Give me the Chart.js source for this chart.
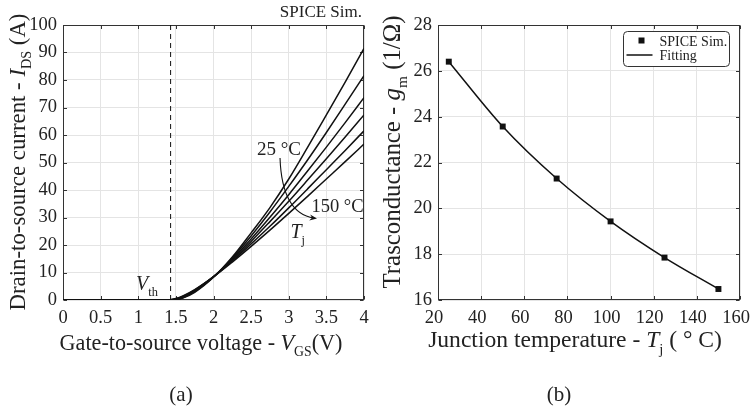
<!DOCTYPE html>
<html>
<head>
<meta charset="utf-8">
<script src="https://cdn.jsdelivr.net/npm/chart.js@4.4.1/dist/chart.umd.min.js"></script>
<style>
  html, body { margin: 0; padding: 0; background: #ffffff; }
  #wrap { position: relative; width: 750px; height: 409px; background: #fff; }
  #wrap canvas { position: absolute; top: 0; }
  #ca { left: 0; }
  #cb { left: 375px; }
</style>
</head>
<body>
<div id="wrap">
  <canvas id="ca" width="375" height="409"></canvas>
  <canvas id="cb" width="375" height="409"></canvas>
</div>
<script>
// ---------------- data: panel (a) ----------------
const vgs      = [0, 0.5, 1, 1.3, 1.4, 1.5, 1.6, 1.75, 2, 2.25, 2.5, 2.75, 3, 3.25, 3.5, 3.75, 4];
const ids25C   = [0, 0, 0, 0, 0, 0.09, 0.76, 2.78, 8.25, 15.6, 24.4, 33.6, 44.0, 55.5, 67.3, 79.2, 91.5];
const ids50C   = [0, 0, 0, 0, 0, 0.15, 0.91, 3.02, 8.37, 15.3, 23.3, 32.0, 41.3, 50.9, 60.9, 71.2, 81.6];
const ids75C   = [0, 0, 0, 0, 0, 0.23, 1.08, 3.23, 8.44, 14.9, 22.2, 30.1, 38.3, 46.9, 55.6, 64.5, 73.6];
const ids100C  = [0, 0, 0, 0, 0, 0.32, 1.25, 3.44, 8.49, 14.6, 21.3, 28.5, 35.9, 43.6, 51.4, 59.3, 67.3];
const ids125C  = [0, 0, 0, 0, 0, 0.42, 1.42, 3.62, 8.47, 14.2, 20.4, 26.8, 33.5, 40.4, 47.4, 54.4, 61.5];
const ids150C  = [0, 0, 0, 0, 0.02, 0.54, 1.59, 3.79, 8.43, 13.8, 19.5, 25.4, 31.5, 37.7, 44.0, 50.3, 56.7];
const curveLabels = ['25 °C', '50 °C', '75 °C', '100 °C', '125 °C', '150 °C'];
const vthValue = 1.43;
const vgsTicks = [0, 0.5, 1, 1.5, 2, 2.5, 3, 3.5, 4];
const idsTicks = [0, 10, 20, 30, 40, 50, 60, 70, 80, 90, 100];

// ---------------- data: panel (b) ----------------
const tjValues  = [25, 50, 75, 100, 125, 150];
const gmSpice   = [26.4, 23.57, 21.3, 19.43, 17.85, 16.48];
const tjTicks   = [20, 40, 60, 80, 100, 120, 140, 160];
const gmTicks   = [16, 18, 20, 22, 24, 26, 28];

// ---------------- helpers ----------------
const FAM = '"Liberation Serif", "Times New Roman", serif';
const INK = '#222222';
const GRID = '#e4e4e4';
const fontStr = (s, it) => (it ? 'italic ' : '') + s + 'px ' + FAM;

function measureRich(ctx, parts, size) {
  let w = 0;
  for (const p of parts) {
    ctx.font = fontStr(p.sub ? size * 0.62 : size, p.it);
    w += ctx.measureText(p.t).width;
  }
  return w;
}
function drawRich(ctx, parts, x, y, opt) {
  let size = opt.size;
  if (opt.fit) size = size * opt.fit / measureRich(ctx, parts, size);
  const w = measureRich(ctx, parts, size);
  ctx.save();
  ctx.translate(x, y);
  if (opt.rot) ctx.rotate(opt.rot);
  ctx.fillStyle = INK;
  ctx.textAlign = 'left';
  ctx.textBaseline = 'alphabetic';
  let cx = opt.align === 'left' ? 0 : opt.align === 'right' ? -w : -w / 2;
  for (const p of parts) {
    const s = p.sub ? size * 0.62 : size;
    ctx.font = fontStr(s, p.it);
    ctx.fillText(p.t, cx, p.sub ? size * 0.28 : 0);
    cx += ctx.measureText(p.t).width;
  }
  ctx.restore();
}
const pts = (xs, ys) => xs.map((v, i) => ({ x: v, y: ys[i] }));

// box + inward ticks (MATLAB style)
const boxPlugin = {
  id: 'boxTicks',
  beforeDatasetsDraw(chart, args, o) {
    const { ctx, chartArea: a, scales } = chart;
    const L = Math.round(a.left) + 0.5, R = Math.round(a.right) - 0.5;
    const T = Math.round(a.top) + 0.5, B = Math.round(a.bottom) - 0.5;
    ctx.save();
    ctx.strokeStyle = '#333333';
    ctx.lineWidth = 1;
    ctx.beginPath();
    for (const v of o.xt) {
      const p = Math.round(scales.x.getPixelForValue(v)) + 0.5;
      ctx.moveTo(p, B); ctx.lineTo(p, B - 3.5);
      ctx.moveTo(p, T); ctx.lineTo(p, T + 3.5);
    }
    for (const v of o.yt) {
      const p = Math.round(scales.y.getPixelForValue(v)) + 0.5;
      ctx.moveTo(L, p); ctx.lineTo(L + 3.5, p);
      ctx.moveTo(R, p); ctx.lineTo(R - 3.5, p);
    }
    ctx.stroke();
    ctx.strokeRect(L, T, R - L, B - T);
    ctx.restore();
  }
};

function commonScales(xTicks, yTicks, xmin, xmax, ymin, ymax, xh, xShift) {
  return {
    x: {
      type: 'linear', min: xmin, max: xmax,
      afterBuildTicks: s => { s.ticks = xTicks.map(v => ({ value: v })); },
      afterFit: s => { s.height = xh; s.paddingLeft = 0; s.paddingRight = 0; },
      grid: { color: GRID, drawTicks: false, lineWidth: 1 },
      border: { display: false },
      ticks: { font: { family: FAM, size: 18.5 }, color: INK, padding: 7, maxRotation: 0,
               labelOffset: xShift, callback: v => String(v) }
    },
    y: {
      type: 'linear', min: ymin, max: ymax,
      afterBuildTicks: s => { s.ticks = yTicks.map(v => ({ value: v })); },
      afterFit: s => { s.width = 63; s.paddingTop = 0; s.paddingBottom = 0; },
      grid: { color: GRID, drawTicks: false, lineWidth: 1 },
      border: { display: false },
      ticks: { font: { family: FAM, size: 18.5 }, color: INK, padding: 6,
               callback: v => String(v) }
    }
  };
}

// ---------------- panel (a) ----------------
const textA = {
  id: 'textA',
  afterDraw(chart) {
    const { ctx, chartArea: a, scales: { x, y } } = chart;
    drawRich(ctx, [{ t: 'Gate-to-source voltage - ' }, { t: 'V', it: true }, { t: 'GS', sub: true }, { t: '(V)' }],
      201, 350, { size: 21, fit: 283 });
    drawRich(ctx, [{ t: 'Drain-to-source current - ' }, { t: 'I', it: true }, { t: 'DS', sub: true }, { t: ' (A)' }],
      25, 162, { size: 21, fit: 297, rot: -Math.PI / 2 });
    drawRich(ctx, [{ t: 'SPICE Sim.' }], a.right - 2, a.top - 8, { size: 17, align: 'right' });
    drawRich(ctx, [{ t: '25 °C' }], x.getPixelForValue(2.87), y.getPixelForValue(52.7), { size: 19 });
    drawRich(ctx, [{ t: '150 °C' }], x.getPixelForValue(3.648), y.getPixelForValue(32), { size: 18.5 });
    drawRich(ctx, [{ t: 'T', it: true }, { t: 'j', sub: true }], x.getPixelForValue(3.12), y.getPixelForValue(22.5), { size: 20 });
    drawRich(ctx, [{ t: 'V', it: true }, { t: 'th', sub: true }], x.getPixelForValue(1.116), y.getPixelForValue(3.6), { size: 20 });
    const sx = x.getPixelForValue(2.884), sy = y.getPixelForValue(51.6);
    const cx = x.getPixelForValue(2.91), cy = y.getPixelForValue(31.5);
    const ex = x.getPixelForValue(3.375), ey = y.getPixelForValue(29.6);
    ctx.save();
    ctx.strokeStyle = '#111'; ctx.fillStyle = '#111'; ctx.lineWidth = 1.1;
    ctx.beginPath(); ctx.moveTo(sx, sy); ctx.quadraticCurveTo(cx, cy, ex - 3, ey - 0.5); ctx.stroke();
    const ang = Math.atan2(ey - cy, ex - cx);
    ctx.beginPath();
    ctx.moveTo(ex, ey);
    ctx.lineTo(ex - 8 * Math.cos(ang - 0.4), ey - 8 * Math.sin(ang - 0.4));
    ctx.lineTo(ex - 5 * Math.cos(ang), ey - 5 * Math.sin(ang));
    ctx.lineTo(ex - 8 * Math.cos(ang + 0.4), ey - 8 * Math.sin(ang + 0.4));
    ctx.closePath(); ctx.fill();
    ctx.restore();
    drawRich(ctx, [{ t: '(a)' }], 181, 401, { size: 21 });
  }
};

const curveSets = [ids25C, ids50C, ids75C, ids100C, ids125C, ids150C];
const dsA = curveSets.map((arr, i) => ({
  label: curveLabels[i],
  data: pts(vgs, arr),
  borderColor: '#111111', borderWidth: 1.5,
  pointRadius: 0, cubicInterpolationMode: 'monotone', fill: false
}));
dsA.push({
  label: 'Vth',
  data: [{ x: vthValue, y: idsTicks[0] }, { x: vthValue, y: idsTicks[idsTicks.length - 1] }],
  borderColor: '#111111', borderWidth: 1, borderDash: [5, 4], pointRadius: 0
});

new Chart(document.getElementById('ca'), {
  type: 'line',
  data: { datasets: dsA },
  options: {
    responsive: false, animation: false, devicePixelRatio: 1,
    layout: { padding: { top: 25, right: 11, left: 0, bottom: 0 } },
    plugins: { legend: { display: false }, tooltip: { enabled: false }, boxTicks: { xt: vgsTicks, yt: idsTicks } },
    scales: commonScales(vgsTicks, idsTicks, 0, 4, 0, 100, 109, 0)
  },
  plugins: [boxPlugin, textA]
});

// ---------------- panel (b) ----------------
const textB = {
  id: 'textB',
  afterDraw(chart) {
    const { ctx, chartArea: a } = chart;
    drawRich(ctx, [{ t: 'Junction temperature - ' }, { t: 'T', it: true }, { t: 'j', sub: true }, { t: ' ( ° C)' }],
      200, 347, { size: 21, fit: 294 });
    drawRich(ctx, [{ t: 'Trasconductance - ' }, { t: 'g', it: true }, { t: 'm', sub: true }, { t: ' (1/Ω)' }],
      25, 152, { size: 21, fit: 273, rot: -Math.PI / 2 });
    const bw = 106, bh = 35;
    const bx = Math.round(a.right - 11 - bw) + 0.5, by = Math.round(a.top + 6) + 0.5;
    ctx.save();
    ctx.fillStyle = '#fff'; ctx.strokeStyle = '#333'; ctx.lineWidth = 1;
    ctx.beginPath(); ctx.roundRect(bx, by, bw, bh, 4); ctx.fill(); ctx.stroke();
    ctx.fillStyle = '#111';
    ctx.fillRect(bx + 15, by + 6, 6, 6);
    ctx.strokeStyle = '#111'; ctx.lineWidth = 1.5;
    ctx.beginPath(); ctx.moveTo(bx + 3, by + 23.5); ctx.lineTo(bx + 29, by + 23.5); ctx.stroke();
    ctx.restore();
    const ds = chart.data.datasets;
    drawRich(ctx, [{ t: ds[0].label }], bx + 36, by + 14, { size: 14, align: 'left' });
    drawRich(ctx, [{ t: ds[1].label }], bx + 36, by + 28, { size: 14, align: 'left' });
    drawRich(ctx, [{ t: '(b)' }], 184, 401, { size: 21 });
  }
};

new Chart(document.getElementById('cb'), {
  type: 'line',
  data: {
    datasets: [
      { label: 'SPICE Sim.', data: pts(tjValues, gmSpice), showLine: false,
        pointStyle: 'rect', pointRadius: 4.2, pointBackgroundColor: '#111', pointBorderColor: '#111', pointBorderWidth: 0 },
      { label: 'Fitting', data: pts(tjValues, gmSpice), borderColor: '#111', borderWidth: 1.5,
        pointRadius: 0, cubicInterpolationMode: 'monotone', fill: false }
    ]
  },
  options: {
    responsive: false, animation: false, devicePixelRatio: 1,
    layout: { padding: { top: 25, right: 10, left: 0, bottom: 0 } },
    plugins: { legend: { display: false }, tooltip: { enabled: false }, boxTicks: { xt: tjTicks, yt: gmTicks } },
    scales: commonScales(tjTicks, gmTicks, 20, 160, 16, 28, 109, -4)
  },
  plugins: [boxPlugin, textB]
});
</script>
</body>
</html>
